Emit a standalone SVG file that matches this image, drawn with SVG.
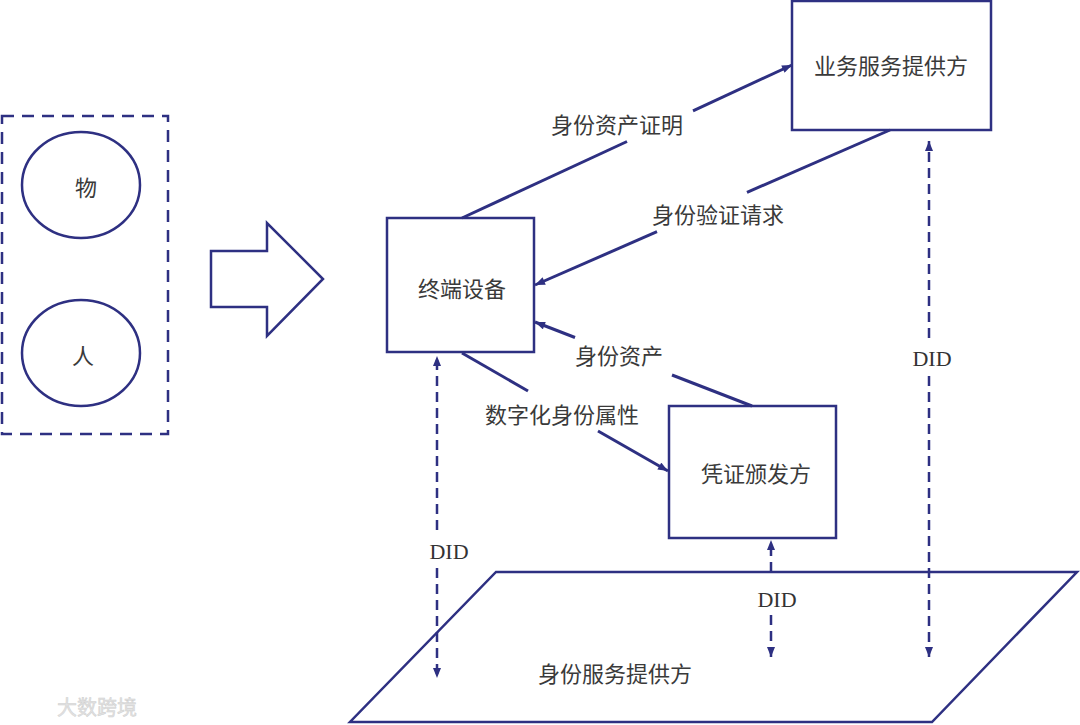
<svg xmlns="http://www.w3.org/2000/svg" width="1080" height="725" viewBox="0 0 1080 725">
<style>
.box{fill:#fff;stroke:#2e3082;stroke-width:2.5}
.ln{fill:none;stroke:#2e3082;stroke-width:3}
.dl{fill:none;stroke:#2e3082;stroke-width:2.5;stroke-dasharray:10 6}
.t{font-family:"Noto Sans CJK SC","Noto Sans",sans-serif;font-size:22px;fill:#3a3a3a;text-anchor:middle;dominant-baseline:central}
.d{font-family:"Liberation Serif",serif;font-size:22px;fill:#333;text-anchor:middle;dominant-baseline:central}
</style>
<defs>
<marker id="ah" viewBox="0 0 10 8" refX="10" refY="4" markerWidth="11" markerHeight="8" markerUnits="userSpaceOnUse" orient="auto">
<path d="M0,0 L10,4 L0,8 z" fill="#2e3082"/>
</marker>
</defs>
<rect width="1080" height="725" fill="#fff"/>

<g id="source-group">
<rect x="2" y="116" width="166" height="318" fill="none" stroke="#2e3082" stroke-width="2.5" stroke-dasharray="12 8"/>
</g>
<g id="node-thing">
<ellipse cx="81" cy="185" rx="59" ry="53" class="box"/>
<text x="86" y="186" class="t">物</text>
</g>
<g id="node-person">
<ellipse cx="81" cy="353" rx="59" ry="53" class="box"/>
<text x="83" y="354" class="t">人</text>
</g>
<g id="big-arrow">
<polygon points="211,251 267,251 267,223 323,279 267,336 267,307 211,307" class="box"/>
</g>
<g id="node-terminal">
<rect x="387" y="218" width="147" height="134" class="box"/>
<text x="462" y="287" class="t">终端设备</text>
</g>
<g id="node-business">
<rect x="792" y="1" width="199" height="129" class="box"/>
<text x="891" y="64" class="t">业务服务提供方</text>
</g>
<g id="node-issuer">
<rect x="669" y="406" width="167" height="132" class="box"/>
<text x="756" y="472" class="t">凭证颁发方</text>
</g>
<g id="node-identity-provider">
<polygon points="496,572 1077,572 932,722 350,722" class="box"/>
<text x="615" y="672" class="t">身份服务提供方</text>
</g>

<g id="connectors">
<path d="M462,218 L627,141.5" class="ln"/>
<path d="M693,110.8 L792,65" class="ln" marker-end="url(#ah)"/>
<text x="617" y="123" class="t">身份资产证明</text>

<path d="M890,130 L747,192.4" class="ln"/>
<path d="M657,231.7 L535,285" class="ln" marker-end="url(#ah)"/>
<text x="718" y="213" class="t">身份验证请求</text>

<path d="M752,406 L672,375" class="ln"/>
<path d="M575,337.5 L535,322" class="ln" marker-end="url(#ah)"/>
<text x="619" y="354" class="t">身份资产</text>

<path d="M462,353 L528,391" class="ln"/>
<path d="M598,431 L668,471" class="ln" marker-end="url(#ah)"/>
<text x="562" y="413" class="t">数字化身份属性</text>

<path d="M437,530 L437,356" class="dl" marker-end="url(#ah)"/>
<path d="M437,568 L437,678" class="dl" marker-end="url(#ah)"/>
<text x="449" y="551" class="d">DID</text>

<path d="M771,572 L771,540" class="dl" marker-end="url(#ah)"/>
<path d="M771,615 L771,657" class="dl" marker-end="url(#ah)"/>
<text x="777" y="599" class="d">DID</text>

<path d="M929,338 L929,141" class="dl" marker-end="url(#ah)"/>
<path d="M929,376 L929,657" class="dl" marker-end="url(#ah)"/>
<text x="932" y="358" class="d">DID</text>
</g>

<g id="watermark">
<text x="97" y="706" font-family="Noto Sans CJK SC,sans-serif" font-size="20" fill="#e2e2e2" stroke="#d0d0d0" stroke-width="0.5" text-anchor="middle" dominant-baseline="central">大数跨境</text>
</g>
</svg>
